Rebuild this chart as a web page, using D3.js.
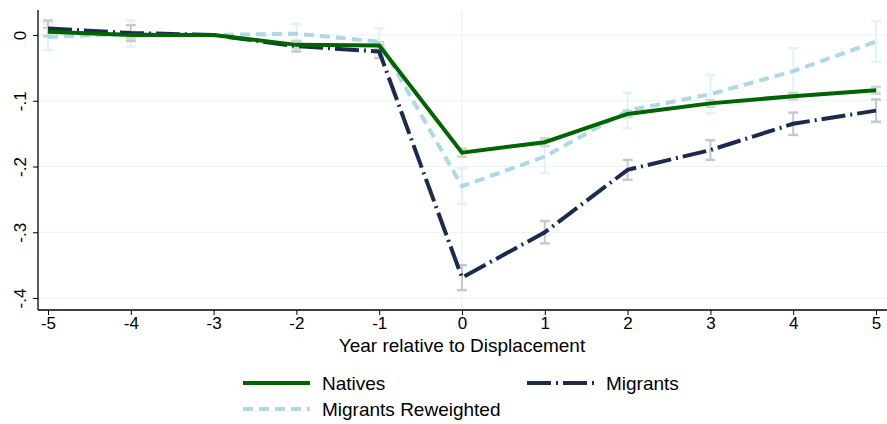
<!DOCTYPE html>
<head>
  <meta charset="utf-8">
  <script src="https://d3js.org/d3.v7.min.js"></script>
  <style>
    body { margin: 0px; background: white; }
    text { font-family: Arial, "Liberation Sans", sans-serif; fill: black; }
  </style>
</head>
<body>
  <svg width="887" height="424"></svg>
  <script>
    var years = [-5, -4, -3, -2, -1, 0, 1, 2, 3, 4, 5];
    var natives = [0.005, 0, 0, -0.015, -0.016, -0.179, -0.163, -0.12, -0.104, -0.093, -0.084];
    var nativesCI = [0.006, 0.005, 0, 0.005, 0.005, 0.006, 0.006, 0.005, 0.005, 0.005, 0.005];
    var migrants = [0.01, 0.003, 0, -0.017, -0.025, -0.369, -0.3, -0.205, -0.175, -0.135, -0.115];
    var migrantsCI = [0.012, 0.012, 0, 0.008, 0.01, 0.019, 0.017, 0.015, 0.015, 0.017, 0.017];
    var reweighted = [-0.003, 0.002, 0, 0.002, -0.01, -0.23, -0.185, -0.115, -0.09, -0.055, -0.01];
    var reweightedCI = [0.02, 0.02, 0, 0.015, 0.02, 0.027, 0.025, 0.027, 0.029, 0.035, 0.031];
    var yTicks = [0, -0.1, -0.2, -0.3, -0.4];
    var yTickLabels = ["0", "-.1", "-.2", "-.3", "-.4"];

    var svg = d3.select("svg");
    var x = d3.scaleLinear().domain([-5, 5]).range([48, 876]);
    var y = d3.scaleLinear().domain([0, -0.4]).range([35, 298]);
    var bottom = 310, left = 38;

    // grid
    svg.append("g").selectAll("line").data(yTicks).enter().append("line")
      .attr("x1", left).attr("x2", 887).attr("y1", d => y(d)).attr("y2", d => y(d))
      .attr("stroke", "#eaf2f3").attr("stroke-width", 1.2);
    svg.append("line").attr("x1", x(0)).attr("x2", x(0)).attr("y1", 10).attr("y2", bottom)
      .attr("stroke", "#eaf2f3").attr("stroke-width", 1.2);

    var series = [
      { v: reweighted, ci: reweightedCI, color: "#add8e6", dash: "10,6", ciColor: "#e3f2f6" },
      { v: migrants, ci: migrantsCI, color: "#1b2b50", dash: "24,5,2,5", ciColor: "#c4c8d4" },
      { v: natives, ci: nativesCI, color: "#006400", dash: null, ciColor: "#c8dcc8" }
    ];

    series.forEach(function(s) {
      var g = svg.append("g");
      years.forEach(function(t, i) {
        if (s.ci[i] === 0) return;
        var y1 = y(s.v[i] + s.ci[i]), y2 = y(s.v[i] - s.ci[i]);
        g.append("line").attr("x1", x(t)).attr("x2", x(t)).attr("y1", y1).attr("y2", y2)
          .attr("stroke", s.ciColor).attr("stroke-width", 2);
        [y1, y2].forEach(function(yy) {
          g.append("line").attr("x1", x(t) - 5).attr("x2", x(t) + 5).attr("y1", yy).attr("y2", yy)
            .attr("stroke", s.ciColor).attr("stroke-width", 2.5);
        });
      });
    });

    var line = d3.line().x((d, i) => x(years[i])).y(d => y(d));
    series.forEach(function(s) {
      svg.append("path").attr("d", line(s.v)).attr("fill", "none")
        .attr("stroke", s.color).attr("stroke-width", 4)
        .attr("stroke-dasharray", s.dash);
    });

    // axes
    var ax = svg.append("g").attr("transform", "translate(0," + bottom + ")")
      .call(d3.axisBottom(x).tickValues(years).tickSize(5).tickFormat(d => String(d)));
    ax.select(".domain").attr("d", "M" + left + ",0H887").attr("stroke-width", 1.3);
    ax.selectAll("text").attr("font-size", 17).attr("y", 6).attr("dy", "0.75em");
    var ay = svg.append("g").attr("transform", "translate(" + left + ",0)")
      .call(d3.axisLeft(y).tickValues(yTicks).tickSize(5).tickFormat((d, i) => yTickLabels[i]));
    ay.select(".domain").attr("d", "M0,10V" + bottom).attr("stroke-width", 1.3);
    ay.selectAll("text").attr("font-size", 17).attr("text-anchor", "middle")
      .attr("x", 0).attr("y", 0).attr("dy", 0)
      .attr("transform", "translate(-12,0) rotate(-90)");

    svg.append("text").attr("x", 462).attr("y", 352).attr("text-anchor", "middle")
      .attr("font-size", 19).text("Year relative to Displacement");

    // legend
    var leg = [
      { name: "Natives", s: series[2], x: 243, y: 383 },
      { name: "Migrants", s: series[1], x: 527, y: 383 },
      { name: "Migrants Reweighted", s: series[0], x: 243, y: 409 }
    ];
    leg.forEach(function(l) {
      svg.append("line").attr("x1", l.x).attr("x2", l.x + 67).attr("y1", l.y).attr("y2", l.y)
        .attr("stroke", l.s.color).attr("stroke-width", 4).attr("stroke-dasharray", l.s.dash);
      svg.append("text").attr("x", l.x + 79).attr("y", l.y + 7).attr("font-size", 19).text(l.name);
    });
  </script>
</body>
</html>
